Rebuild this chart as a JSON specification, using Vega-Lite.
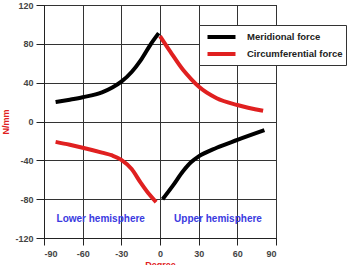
{
  "$schema": "https://vega.github.io/schema/vega-lite/v6.json",
  "width": 232,
  "height": 233,
  "autosize": {"type": "none"},
  "padding": {"left": 44, "top": 5, "right": 73, "bottom": 27},
  "background": "white",
  "config": {
    "view": {"stroke": "black", "strokeWidth": 1},
    "font": "Liberation Sans",
    "axis": {
      "grid": true,
      "gridColor": "#333333",
      "gridOpacity": 1,
      "gridWidth": 1,
      "domainColor": "#222222",
      "tickColor": "#222222",
      "labelColor": "#444444",
      "labelFontWeight": "bold",
      "labelFontSize": 9,
      "labelOverlap": false,
      "tickCount": 12,
      "titleColor": "#e02020",
      "titleFontWeight": "bold",
      "titleFontSize": 9
    }
  },
  "datasets": {
    "lines": [
      {"series": "Meridional force", "side": "L", "x": -81, "y": 20},
      {"series": "Meridional force", "side": "L", "x": -70, "y": 22.5},
      {"series": "Meridional force", "side": "L", "x": -60, "y": 25},
      {"series": "Meridional force", "side": "L", "x": -45, "y": 30},
      {"series": "Meridional force", "side": "L", "x": -37, "y": 35},
      {"series": "Meridional force", "side": "L", "x": -30, "y": 41},
      {"series": "Meridional force", "side": "L", "x": -22, "y": 51},
      {"series": "Meridional force", "side": "L", "x": -15, "y": 63},
      {"series": "Meridional force", "side": "L", "x": -7, "y": 80},
      {"series": "Meridional force", "side": "L", "x": -1, "y": 91},
      {"series": "Meridional force", "side": "R", "x": 2, "y": -80},
      {"series": "Meridional force", "side": "R", "x": 10, "y": -66},
      {"series": "Meridional force", "side": "R", "x": 18, "y": -51},
      {"series": "Meridional force", "side": "R", "x": 24, "y": -42},
      {"series": "Meridional force", "side": "R", "x": 30, "y": -36},
      {"series": "Meridional force", "side": "R", "x": 44, "y": -27},
      {"series": "Meridional force", "side": "R", "x": 60, "y": -19},
      {"series": "Meridional force", "side": "R", "x": 81, "y": -9},
      {"series": "Circumferential force", "side": "L", "x": -81, "y": -21},
      {"series": "Circumferential force", "side": "L", "x": -70, "y": -24},
      {"series": "Circumferential force", "side": "L", "x": -60, "y": -27},
      {"series": "Circumferential force", "side": "L", "x": -45, "y": -32},
      {"series": "Circumferential force", "side": "L", "x": -37, "y": -35},
      {"series": "Circumferential force", "side": "L", "x": -30, "y": -39.5},
      {"series": "Circumferential force", "side": "L", "x": -22, "y": -49},
      {"series": "Circumferential force", "side": "L", "x": -15, "y": -63},
      {"series": "Circumferential force", "side": "L", "x": -9, "y": -74},
      {"series": "Circumferential force", "side": "L", "x": -3, "y": -83},
      {"series": "Circumferential force", "side": "R", "x": 0, "y": 88},
      {"series": "Circumferential force", "side": "R", "x": 8, "y": 72},
      {"series": "Circumferential force", "side": "R", "x": 18, "y": 53},
      {"series": "Circumferential force", "side": "R", "x": 24, "y": 44},
      {"series": "Circumferential force", "side": "R", "x": 30, "y": 36},
      {"series": "Circumferential force", "side": "R", "x": 44, "y": 24},
      {"series": "Circumferential force", "side": "R", "x": 60, "y": 17},
      {"series": "Circumferential force", "side": "R", "x": 80, "y": 11}
    ],
    "labels": [
      {"label": "Lower hemisphere", "x": -46, "y": -100.5},
      {"label": "Upper hemisphere", "x": 45, "y": -100.5}
    ]
  },
  "layer": [
    {
      "data": {"name": "lines"},
      "mark": {"type": "line", "strokeWidth": 4, "interpolate": "monotone", "strokeCap": "butt"},
      "encoding": {
        "x": {
          "field": "x", "type": "quantitative",
          "scale": {"domain": [-90, 90], "nice": false},
          "axis": {"values": [-90, -60, -30, 0, 30, 60, 90], "tickCount": 12, "title": "Degree", "tickSize": 7, "labelPadding": 4, "titlePadding": 2, "format": "d", "labelExpr": "replace(datum.label, '−', '-')"}
        },
        "y": {
          "field": "y", "type": "quantitative",
          "scale": {"domain": [-120, 120], "nice": false},
          "axis": {"values": [-120, -80, -40, 0, 40, 80, 120], "tickCount": 12, "title": "N/mm", "tickSize": 8, "labelPadding": 3, "titlePadding": 4, "format": "d", "labelExpr": "replace(datum.label, '−', '-')"}
        },
        "color": {
          "field": "series", "type": "nominal",
          "scale": {"domain": ["Meridional force", "Circumferential force"], "range": ["#000000", "#e02020"]},
          "legend": {
            "title": null,
            "orient": "none",
            "legendX": 155,
            "legendY": 20,
            "symbolType": "M-0.5,0H3.5",
            "symbolStrokeWidth": 4,
            "symbolSize": 196,
            "labelFontWeight": "bold",
            "labelFontSize": 9.5,
            "labelColor": "#222222",
            "strokeColor": "#333333",
            "fillColor": "white",
            "padding": 3,
            "rowPadding": -2,
            "labelOffset": 27
          }
        },
        "detail": {"field": "side"}
      }
    },
    {
      "data": {"name": "labels"},
      "mark": {"type": "text", "color": "#3a3adf", "fontWeight": "bold", "fontSize": 10},
      "encoding": {
        "x": {"field": "x", "type": "quantitative"},
        "y": {"field": "y", "type": "quantitative"},
        "text": {"field": "label"}
      }
    }
  ]
}
